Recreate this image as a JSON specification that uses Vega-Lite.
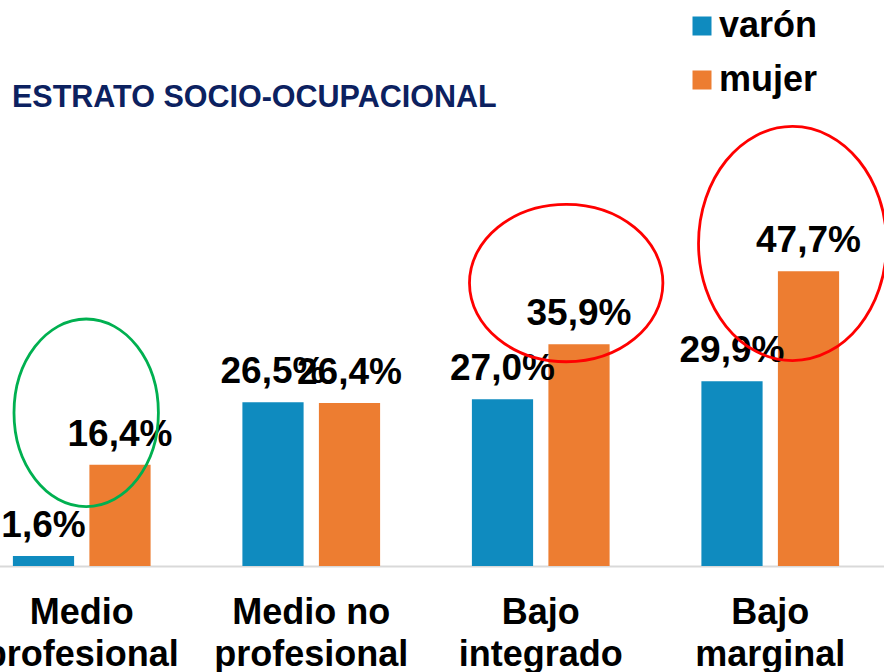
{
  "$schema": "https://vega.github.io/schema/vega-lite/v6.json",
  "autosize": "none",
  "width": 918,
  "height": 451,
  "padding": {"left": -33, "top": 115, "right": 0, "bottom": 106},
  "background": "white",
  "title": {
    "text": "ESTRATO SOCIO-OCUPACIONAL",
    "anchor": "start",
    "frame": "group",
    "font": "Liberation Sans",
    "fontSize": 30.5,
    "fontWeight": "bold",
    "color": "#0C2160",
    "dx": 45,
    "dy": 137,
    "offset": 8,
    "baseline": "alphabetic"
  },
  "datasets": {
    "barras": [
      {"estrato": "Medio profesional", "sexo": "varón", "valor": 1.6},
      {"estrato": "Medio profesional", "sexo": "mujer", "valor": 16.4},
      {"estrato": "Medio no profesional", "sexo": "varón", "valor": 26.5},
      {"estrato": "Medio no profesional", "sexo": "mujer", "valor": 26.4},
      {"estrato": "Bajo integrado", "sexo": "varón", "valor": 27.0},
      {"estrato": "Bajo integrado", "sexo": "mujer", "valor": 35.9},
      {"estrato": "Bajo marginal", "sexo": "varón", "valor": 29.9},
      {"estrato": "Bajo marginal", "sexo": "mujer", "valor": 47.7}
    ],
    "anillos": [
      {"anillo": "verde", "estrato": "Medio profesional", "centro": 24.8},
      {"anillo": "rojo1", "estrato": "Bajo integrado", "centro": 45.8},
      {"anillo": "rojo2", "estrato": "Bajo marginal", "centro": 52.2}
    ]
  },
  "encoding": {
    "x": {
      "field": "estrato",
      "type": "nominal",
      "sort": ["Medio profesional", "Medio no profesional", "Bajo integrado", "Bajo marginal"],
      "scale": {"paddingInner": 0.4, "paddingOuter": 0.2},
      "axis": {
        "title": null,
        "labelAngle": 0,
        "domainColor": "#D9D9D9",
        "domainWidth": 2,
        "ticks": false,
        "tickSize": 0,
        "labelPadding": 29,
        "labelFont": "Liberation Sans",
        "labelFontSize": 36,
        "labelFontWeight": "bold",
        "labelColor": "black",
        "labelLineHeight": 42,
        "labelLimit": 0,
        "labelOverlap": false,
        "labelBound": false,
        "labelFlush": false,
        "labelExpr": "datum.label == 'Medio no profesional' ? ['Medio no', 'profesional'] : split(datum.label, ' ')"
      }
    },
    "y": {
      "type": "quantitative",
      "scale": {"domain": [0, 73], "nice": false, "zero": true},
      "axis": null
    }
  },
  "layer": [
    {
      "data": {"name": "barras"},
      "mark": {"type": "bar"},
      "encoding": {
        "y": {"field": "valor", "type": "quantitative"},
        "xOffset": {"field": "sexo", "type": "nominal", "sort": ["varón", "mujer"], "scale": {"paddingInner": 0.2}},
        "color": {
          "field": "sexo",
          "type": "nominal",
          "sort": ["varón", "mujer"],
          "scale": {"domain": ["varón", "mujer"], "range": ["#0F8BBF", "#ED7D31"]},
          "legend": {
            "orient": "none",
            "legendX": 717,
            "legendY": -107,
            "title": null,
            "symbolType": "square",
            "symbolSize": 361,
            "symbolStrokeWidth": 0,
            "labelFont": "Liberation Sans",
            "labelFontSize": 36,
            "labelFontWeight": "bold",
            "labelColor": "black",
            "labelOffset": -1,
            "rowPadding": 18,
            "padding": 0
          }
        }
      }
    },
    {
      "data": {"name": "barras"},
      "transform": [
        {"calculate": "replace(format(datum.valor, '.1f'), '.', ',') + '%'", "as": "etiqueta"}
      ],
      "mark": {
        "type": "text",
        "font": "Liberation Sans",
        "fontSize": 37,
        "fontWeight": "bold",
        "color": "black",
        "baseline": "alphabetic",
        "align": "center",
        "dy": -19
      },
      "encoding": {
        "y": {"field": "valor", "type": "quantitative"},
        "xOffset": {"field": "sexo", "type": "nominal", "sort": ["varón", "mujer"]},
        "text": {"field": "etiqueta", "type": "nominal"}
      }
    },
    {
      "data": {"name": "anillos"},
      "transform": [{"filter": "datum.anillo == 'verde'"}],
      "mark": {
        "type": "point",
        "filled": false,
        "stroke": "#00B050",
        "strokeWidth": 2.8,
        "opacity": 1,
        "size": 20851,
        "shape": "M1.0616,0 C1.0616,0.7174 0.6139,1.299 0.0616,1.299 C-0.4907,1.299 -0.9384,0.7174 -0.9384,0 C-0.9384,-0.7174 -0.4907,-1.299 0.0616,-1.299 C0.6139,-1.299 1.0616,-0.7174 1.0616,0 Z"
      },
      "encoding": {
        "y": {"field": "centro", "type": "quantitative"}
      }
    },
    {
      "data": {"name": "anillos"},
      "transform": [{"filter": "datum.anillo == 'rojo1'"}],
      "mark": {
        "type": "point",
        "filled": false,
        "stroke": "#FF0000",
        "strokeWidth": 2.8,
        "opacity": 1,
        "size": 37403,
        "shape": "M1.263,0 C1.263,0.4496 0.8153,0.814 0.263,0.814 C-0.2893,0.814 -0.737,0.4496 -0.737,0 C-0.737,-0.4496 -0.2893,-0.814 0.263,-0.814 C0.8153,-0.814 1.263,-0.4496 1.263,0 Z"
      },
      "encoding": {
        "y": {"field": "centro", "type": "quantitative"}
      }
    },
    {
      "data": {"name": "anillos"},
      "transform": [{"filter": "datum.anillo == 'rojo2'"}],
      "mark": {
        "type": "point",
        "filled": false,
        "stroke": "#FF0000",
        "strokeWidth": 2.8,
        "opacity": 1,
        "size": 35344,
        "shape": "M1.237,0 C1.237,0.6876 0.7893,1.245 0.237,1.245 C-0.3153,1.245 -0.763,0.6876 -0.763,0 C-0.763,-0.6876 -0.3153,-1.245 0.237,-1.245 C0.7893,-1.245 1.237,-0.6876 1.237,0 Z"
      },
      "encoding": {
        "y": {"field": "centro", "type": "quantitative"}
      }
    }
  ],
  "config": {
    "view": {"stroke": null}
  }
}
